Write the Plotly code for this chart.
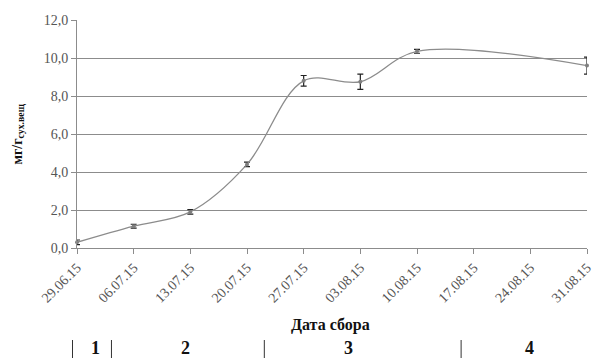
import plotly.graph_objects as go

dates = ["2015-06-29", "2015-07-06", "2015-07-13", "2015-07-20", "2015-07-27",
         "2015-08-03", "2015-08-10", "2015-08-31"]
values = [0.3, 1.15, 1.9, 4.4, 8.8, 8.75, 10.35, 9.6]
errors = [0.12, 0.1, 0.12, 0.12, 0.28, 0.4, 0.1, 0.45]

tick_dates = ["2015-06-29", "2015-07-06", "2015-07-13", "2015-07-20", "2015-07-27",
              "2015-08-03", "2015-08-10", "2015-08-17", "2015-08-24", "2015-08-31"]
tick_labels = ["29.06.15", "06.07.15", "13.07.15", "20.07.15", "27.07.15",
               "03.08.15", "10.08.15", "17.08.15", "24.08.15", "31.08.15"]
y_ticks = [0, 2, 4, 6, 8, 10, 12]

period_labels = ["1", "2", "3", "4"]

fig = go.Figure()
fig.add_trace(go.Scatter(
    x=dates, y=values,
    mode="lines+markers",
    line=dict(color="#8c8c8c", width=1.3, shape="spline", smoothing=1.0),
    marker=dict(size=4, color="#7f7f7f"),
    error_y=dict(type="data", array=errors, visible=True, color="#222222",
                 thickness=1.2, width=3),
    showlegend=False,
    cliponaxis=False,
))

W, H = 592, 358
L, R, T, B = 76.5, 5, 20, 110
pw = W - L - R
ph = H - T - B

def px_x(px):
    return (px - L) / pw

def px_y(py):
    return (H - B - py) / ph

serif = "Liberation Serif, Times New Roman, serif"

annotations = [
    dict(text="<b>Дата сбора</b>", x=px_x(330), y=px_y(325), xref="paper", yref="paper",
         showarrow=False, font=dict(family=serif, size=16, color="#111111"),
         xanchor="center", yanchor="middle"),
    dict(text="<b>мг/г<sub>сух.вещ</sub></b>", x=px_x(17), y=px_y(134),
         xref="paper", yref="paper", showarrow=False, textangle=-90,
         font=dict(family=serif, size=14, color="#111111"),
         xanchor="center", yanchor="middle"),
]
period_x = [95, 185, 348, 529]
for lab, xx in zip(period_labels, period_x):
    annotations.append(dict(text="<b>" + lab + "</b>", x=px_x(xx), y=px_y(348),
                            xref="paper", yref="paper", showarrow=False,
                            font=dict(family=serif, size=18, color="#111111"),
                            xanchor="center", yanchor="middle"))

shapes = []
for sx in [72, 111, 264, 461]:
    shapes.append(dict(type="line", xref="paper", yref="paper",
                       x0=px_x(sx), x1=px_x(sx), y0=px_y(340), y1=px_y(358),
                       line=dict(color="#333333", width=1)))

fig.update_layout(
    width=W, height=H,
    margin=dict(l=L, r=R, t=T, b=B, autoexpand=False),
    paper_bgcolor="white", plot_bgcolor="white",
    separators=", ",
    annotations=annotations,
    shapes=shapes,
    xaxis=dict(
        type="date",
        range=["2015-06-29", "2015-08-31"],
        tickvals=tick_dates, ticktext=tick_labels,
        tickangle=-45,
        ticklabeloverflow="allow",
        tickfont=dict(family=serif, size=14, color="#555555"),
        showgrid=False, zeroline=False,
        showline=True, linecolor="#8c8c8c", linewidth=1,
        ticks="outside", ticklen=5, tickcolor="#8c8c8c",
        automargin=False,
    ),
    yaxis=dict(
        range=[0, 12],
        tickvals=y_ticks,
        tickformat=".1f",
        tickfont=dict(family=serif, size=14, color="#555555"),
        showgrid=True, gridcolor="#8c8c8c", gridwidth=1,
        zeroline=False,
        showline=True, linecolor="#8c8c8c", linewidth=1,
        ticks="outside", ticklen=5, tickcolor="#8c8c8c",
        automargin=False,
    ),
)

fig.write_html(
    "out.html",
    config={"displayModeBar": False},
    post_script="document.body.style.margin='0';document.body.style.overflow='hidden';",
)
